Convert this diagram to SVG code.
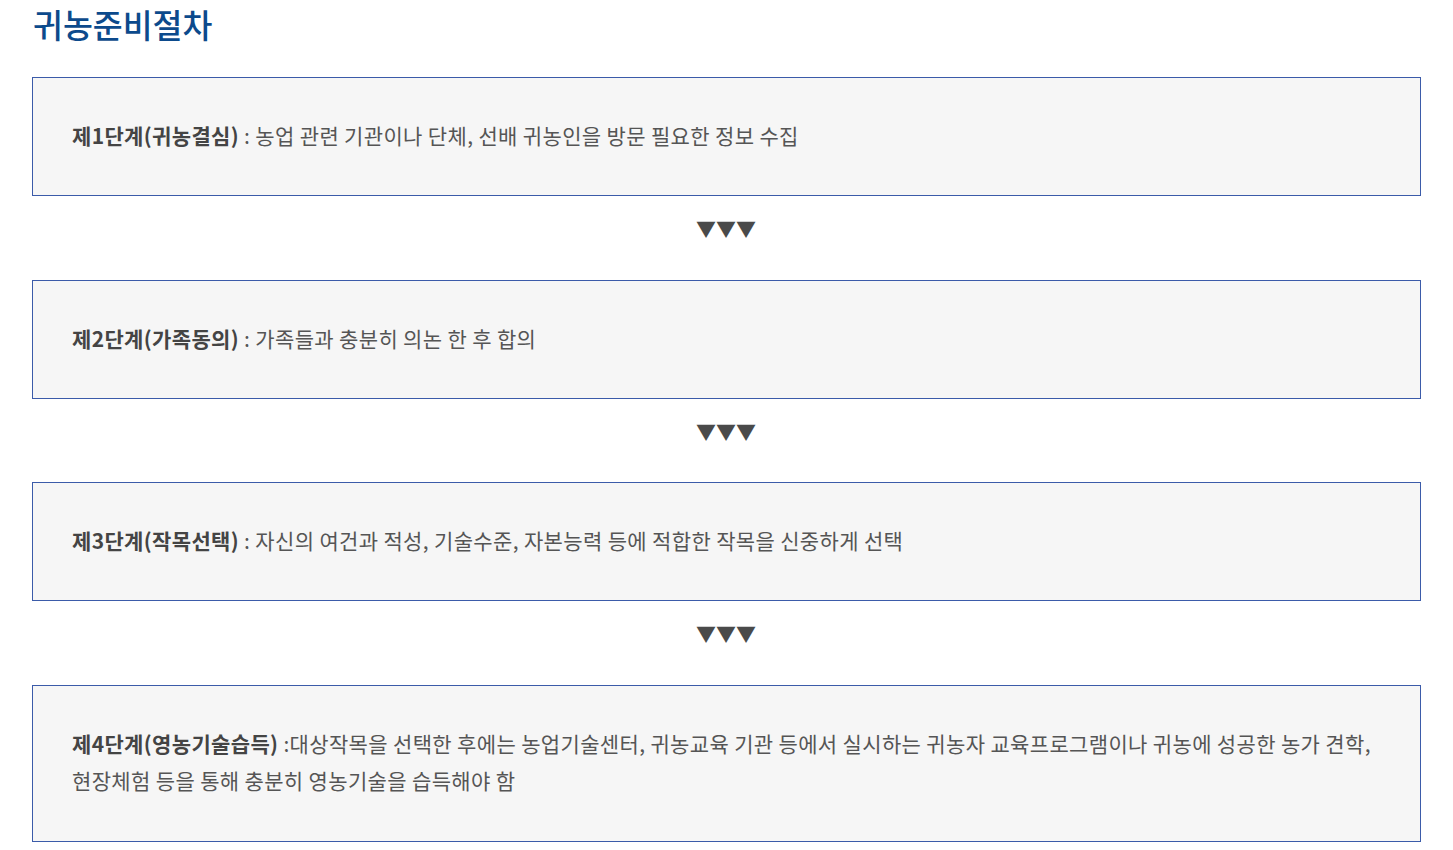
<svg xmlns="http://www.w3.org/2000/svg" width="1453" height="850" viewBox="0 0 1453 850">
<style>
.box{fill:#f6f6f6;stroke:#3b5ba9;stroke-width:1}
.t{font-family:"Noto Sans CJK KR","Noto Sans",sans-serif;font-size:21px;fill:#555;letter-spacing:0.35px}
.b{font-weight:bold;fill:#444}
.arr{font-family:"Noto Sans CJK KR","DejaVu Sans",sans-serif;font-size:20px;fill:#4a4a4a;text-anchor:middle}
.title{font-family:"Noto Sans CJK KR","Noto Sans",sans-serif;font-size:32.5px;font-weight:500;fill:#0c4a8c}
</style>
<rect width="1453" height="850" fill="#ffffff"/>
<text id="title" class="title" x="33" y="38">귀농준비절차</text>
<g id="step1">
<rect class="box" x="32.5" y="77.5" width="1388" height="118"/>
<text class="t" x="72" y="144"><tspan class="b">제1단계(귀농결심)</tspan> : 농업 관련 기관이나 단체, 선배 귀농인을 방문 필요한 정보 수집</text>
</g>
<g id="step2">
<rect class="box" x="32.5" y="280.5" width="1388" height="118"/>
<text class="t" x="72" y="347"><tspan class="b">제2단계(가족동의)</tspan> : 가족들과 충분히 의논 한 후 합의</text>
</g>
<g id="step3">
<rect class="box" x="32.5" y="482.5" width="1388" height="118"/>
<text class="t" x="72" y="549"><tspan class="b">제3단계(작목선택)</tspan> : 자신의 여건과 적성, 기술수준, 자본능력 등에 적합한 작목을 신중하게 선택</text>
</g>
<g id="step4">
<rect class="box" x="32.5" y="685.5" width="1388" height="156"/>
<text class="t" x="72" y="752"><tspan class="b">제4단계(영농기술습득)</tspan> :대상작목을 선택한 후에는 농업기술센터, 귀농교육 기관 등에서 실시하는 귀농자 교육프로그램이나 귀농에 성공한 농가 견학,</text>
<text class="t" x="72" y="789">현장체험 등을 통해 충분히 영농기술을 습득해야 함</text>
</g>
<g id="connectors">
<text class="arr" x="726" y="237">▼▼▼</text>
<text class="arr" x="726" y="440">▼▼▼</text>
<text class="arr" x="726" y="642">▼▼▼</text>
</g>
</svg>
